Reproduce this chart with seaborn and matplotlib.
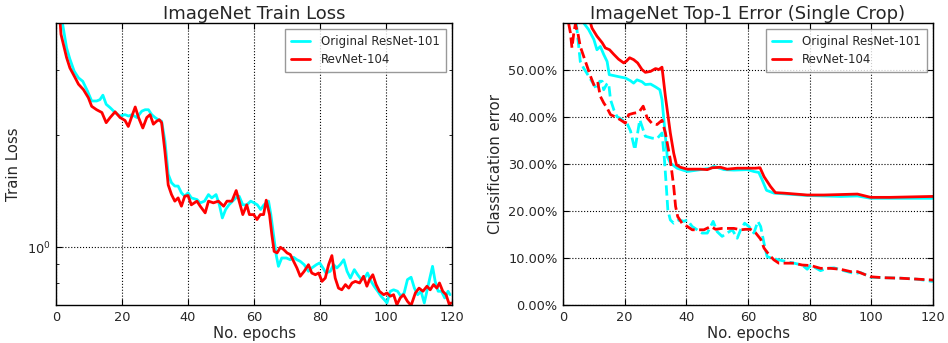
import numpy as np
import pandas as pd
import matplotlib
matplotlib.use("Agg")
import matplotlib.pyplot as plt
import matplotlib.ticker as mticker
import seaborn as sns

# train loss (left)
resnet_loss_ep = [2.0, 3.2, 4.2, 5.5, 6.8, 8.1, 9.5, 10.8, 12.3, 13.3, 14.2, 15.2, 16.4, 17.9, 19.4, 20.9,
                  22.0, 23.0, 24.5, 26.0, 27.0, 28.0, 29.0, 30.0, 31.0, 32.0, 33.0, 34.0, 35.0, 36.0, 37.0,
                  38.0, 39.0, 40.0, 41.0, 42.7, 43.7, 45.0, 46.2, 47.2, 48.5, 49.5, 50.4, 51.4, 52.4, 53.5,
                  54.5, 55.5, 56.6, 57.8, 59.0, 60.0, 61.0, 62.0, 63.0, 64.4, 65.1, 65.9, 66.7, 67.4, 68.4,
                  69.8, 71.0, 72.0, 73.0, 74.0, 75.2, 76.5, 77.5, 78.9, 79.9, 80.9, 81.8, 83.1, 84.1, 85.1,
                  86.1, 87.2, 88.2, 89.2, 90.4, 91.4, 92.5, 93.5, 94.4, 95.5, 96.4, 97.5, 98.5, 99.5, 100.3,
                  101.3, 102.3, 103.5, 104.5, 105.5, 106.5, 107.6, 108.6, 109.6, 110.6, 111.6, 112.6, 113.4,
                  114.1, 114.9, 115.8, 116.8, 117.8, 118.8, 119.4]
resnet_loss = [3.97, 3.43, 3.20, 2.97, 2.85, 2.79, 2.63, 2.47, 2.47, 2.49, 2.56, 2.42, 2.37, 2.30, 2.25, 2.27,
               2.25, 2.27, 2.23, 2.32, 2.34, 2.34, 2.27, 2.23, 2.20, 2.18, 1.93, 1.57, 1.49, 1.46, 1.46,
               1.40, 1.371, 1.40, 1.357, 1.343, 1.316, 1.33, 1.385, 1.357, 1.385, 1.30, 1.199, 1.263, 1.30, 1.33,
               1.357, 1.371, 1.30, 1.30, 1.33, 1.316, 1.30, 1.263, 1.30, 1.33, 1.224, 1.082, 0.956, 0.889, 0.936,
               0.936, 0.926, 0.94, 0.926, 0.917, 0.898, 0.862, 0.88, 0.898, 0.908, 0.88, 0.853, 0.862, 0.898, 0.88,
               0.898, 0.926, 0.862, 0.827, 0.871, 0.844, 0.819, 0.827, 0.853, 0.81, 0.786, 0.762, 0.739, 0.723, 0.709,
               0.762, 0.769, 0.762, 0.739, 0.754, 0.819, 0.831, 0.777, 0.746, 0.762, 0.709, 0.777, 0.836,
               0.889, 0.81, 0.762, 0.762, 0.731, 0.762, 0.746]

revnet_loss_ep = [1.0, 1.5, 3.2, 4.2, 5.8, 6.8, 8.3, 9.8, 10.8, 12.3, 13.9, 15.2, 16.4, 17.9, 19.4, 20.9, 21.9,
                  23.0, 24.0, 25.0, 26.3, 27.5, 28.5, 29.5, 30.5, 31.3, 32.0, 33.0, 34.0, 35.0, 36.0, 37.0,
                  38.0, 39.0, 40.0, 41.0, 42.7, 43.7, 45.2, 46.2, 47.7, 49.2, 50.8, 51.8, 53.3, 54.6, 55.8,
                  56.6, 57.8, 58.6, 59.9, 60.9, 61.9, 62.9, 63.7, 64.7, 65.4, 66.1, 67.0, 68.0, 69.0, 70.0,
                  71.0, 72.0, 73.0, 74.0, 75.2, 76.5, 77.5, 78.6, 79.6, 80.6, 81.6, 82.6, 83.6, 84.6, 85.6,
                  86.6, 87.7, 88.7, 89.7, 90.7, 92.0, 93.2, 94.2, 95.0, 96.0, 97.0, 98.0, 99.3, 100.3, 101.3,
                  102.3, 103.3, 104.3, 105.3, 106.5, 107.6, 108.9, 110.0, 111.2, 112.4, 113.4, 114.4, 115.4,
                  116.2, 117.2, 118.2, 119.2, 119.7]
revnet_loss = [4.3, 3.73, 3.23, 3.03, 2.85, 2.74, 2.65, 2.52, 2.39, 2.34, 2.30, 2.16, 2.23, 2.31, 2.23, 2.19, 2.11,
               2.25, 2.38, 2.23, 2.09, 2.23, 2.27, 2.14, 2.18, 2.20, 2.16, 1.81, 1.47, 1.385, 1.33, 1.357,
               1.289, 1.371, 1.377, 1.30, 1.33, 1.289, 1.237, 1.33, 1.316, 1.33, 1.289, 1.33, 1.33, 1.42, 1.30,
               1.224, 1.30, 1.224, 1.224, 1.187, 1.224, 1.224, 1.338, 1.224, 1.082, 0.975, 0.966, 1.0, 0.986, 0.966,
               0.956, 0.917, 0.88, 0.836, 0.862, 0.898, 0.853, 0.844, 0.853, 0.81, 0.827, 0.898, 0.95, 0.827, 0.777,
               0.769, 0.794, 0.777, 0.802, 0.81, 0.802, 0.836, 0.786, 0.819, 0.844, 0.794, 0.762, 0.746, 0.754, 0.739,
               0.746, 0.701, 0.731, 0.746, 0.716, 0.698, 0.754, 0.777, 0.762, 0.786, 0.769, 0.794, 0.777,
               0.802, 0.762, 0.746, 0.701, 0.709]

# top-1 error in % (right): solid = validation, dashed = training
resnet_val_ep = [6.7, 8.3, 10.0, 11.0, 12.1, 13.2, 14.3, 15.0, 16.5, 18.6, 20.2, 21.9, 22.9, 24.0, 25.6, 26.7,
                 28.4, 30.0, 31.4, 32.1, 32.9, 33.8, 34.8, 37.0, 40.3, 44.6, 47.8, 48.9, 52.2, 55.4, 59.8,
                 61.9, 63.5, 64.6, 66.0, 68.4, 70.6, 79.2, 90.0, 95.5, 99.8, 120.0]
resnet_val = [60.0, 58.6, 56.5, 54.3, 55.0, 53.3, 51.8, 49.0, 48.8, 48.5, 48.3, 47.7, 47.2, 47.9, 47.5, 46.9,
              47.0, 46.4, 45.8, 43.7, 38.0, 31.6, 30.2, 29.1, 28.4, 28.8, 29.1, 29.5, 28.8, 28.7, 28.8,
              28.4, 28.2, 26.6, 24.4, 23.8, 23.7, 23.3, 23.1, 23.2, 22.7, 22.7]

revnet_val_ep = [8.9, 9.4, 11.0, 12.7, 13.7, 15.1, 16.5, 18.0, 19.7, 20.6, 21.6, 22.9, 24.2, 25.6, 26.7, 28.4,
                 30.0, 31.1, 32.1, 33.2, 34.8, 35.9, 36.8, 38.1, 40.3, 44.6, 46.8, 48.4, 51.1, 53.2, 56.5,
                 59.8, 62.4, 63.9, 65.2, 67.3, 68.9, 71.6, 79.2, 84.6, 95.5, 99.8, 106.0, 120.0]
revnet_val = [60.0, 58.9, 57.2, 55.8, 54.7, 54.3, 53.3, 52.3, 51.5, 51.9, 52.6, 52.2, 51.5, 50.1, 49.5, 49.7,
              50.3, 50.1, 50.6, 44.4, 36.6, 32.3, 29.8, 29.3, 28.9, 28.9, 28.8, 29.2, 29.3, 28.9, 29.1,
              29.1, 29.1, 29.2, 27.3, 25.2, 23.9, 23.8, 23.4, 23.4, 23.6, 22.9, 22.9, 23.1]

resnet_train_ep = [4.3, 5.6, 6.7, 8.3, 10.0, 11.0, 11.9, 12.7, 13.2, 14.1, 14.8, 15.4, 16.5, 17.5, 19.2, 20.8,
                   21.9, 23.3, 24.9, 26.7, 28.9, 30.5, 32.1, 32.9, 33.5, 34.0, 34.8, 35.9, 37.6, 39.2, 40.3,
                   41.9, 43.5, 45.1, 46.8, 48.7, 50.0, 51.6, 53.2, 54.9, 56.5, 57.6, 58.9, 60.3, 61.9, 63.2,
                   64.1, 65.2, 66.2, 67.9, 70.0, 72.7, 74.9, 77.6, 79.2, 80.3, 83.5, 85.7, 87.9, 91.1, 94.4,
                   96.5, 99.8, 104.1, 109.5, 114.8, 120.0]
resnet_train = [60.0, 51.8, 50.4, 48.7, 46.9, 45.8, 47.6, 47.6, 45.8, 46.9, 47.2, 43.7, 41.5, 40.1, 39.4, 38.6,
                37.0, 33.0, 39.4, 35.9, 35.5, 35.4, 36.6, 30.9, 25.2, 20.2, 18.1, 17.4, 18.1, 17.8, 18.1,
                16.7, 16.0, 15.3, 15.3, 17.8, 15.6, 14.6, 15.3, 16.0, 14.2, 16.0, 17.4, 16.7, 15.3, 17.8,
                16.7, 13.1, 10.3, 9.9, 9.6, 9.2, 8.9, 8.5, 7.6, 8.5, 7.3, 7.8, 7.9, 7.3, 6.7,
                6.9, 5.9, 5.8, 5.7, 5.5, 5.0]

revnet_train_ep = [1.8, 2.4, 2.9, 3.5, 4.0, 4.8, 5.6, 6.7, 7.8, 8.9, 10.2, 11.3, 12.1, 13.2, 14.3, 15.4, 17.0,
                   18.6, 20.2, 21.3, 22.9, 24.6, 26.0, 27.3, 28.9, 30.5, 32.1, 33.2, 34.8, 35.9, 36.5, 37.2,
                   38.6, 40.3, 41.9, 43.5, 45.7, 47.9, 49.5, 51.6, 53.2, 55.4, 57.6, 59.2, 60.8, 62.4, 64.1,
                   65.2, 66.8, 68.4, 70.0, 72.2, 74.9, 77.6, 80.3, 83.5, 86.8, 90.0, 93.3, 95.5, 98.2, 99.8,
                   104.1, 109.5, 114.8, 120.0]
revnet_train = [60.0, 57.9, 54.7, 57.9, 59.7, 57.9, 55.0, 52.9, 50.8, 48.7, 46.5, 47.2, 44.4, 43.0, 41.9, 40.5, 40.0,
                39.4, 38.7, 40.5, 40.8, 41.0, 42.3, 39.8, 38.6, 38.4, 39.3, 36.6, 30.9, 25.2, 21.0, 18.8,
                17.4, 16.7, 16.0, 16.0, 16.0, 16.7, 16.1, 16.3, 16.3, 16.3, 16.0, 16.1, 16.1, 15.4, 14.0,
                12.1, 10.7, 9.6, 8.9, 8.9, 8.9, 8.5, 8.4, 7.8, 7.8, 7.6, 7.1, 7.1, 6.4, 6.0,
                5.8, 5.7, 5.5, 5.3]

CYAN = "#00ffff"
RED = "#ff0000"

sns.set_style("white")
plt.rcParams["font.family"] = ["DejaVu Sans"]
plt.rcParams["xtick.direction"] = "in"
plt.rcParams["ytick.direction"] = "in"

fig = plt.figure(figsize=(9.48, 3.43), dpi=100)
ax1 = fig.add_axes([0.0591, 0.1108, 0.4177, 0.8222])
ax2 = fig.add_axes([0.5939, 0.1108, 0.3903, 0.8222])


def style_axes(ax):
    for s in ax.spines.values():
        s.set_color("black")
        s.set_linewidth(1.0)
    ax.tick_params(which="both", top=True, right=True, bottom=True, left=True,
                   direction="in", labelsize=9.3, color="black")
    ax.tick_params(which="major", length=4, pad=4)
    ax.tick_params(which="minor", length=2)
    ax.grid(True, which="major", linestyle=":", color="black", linewidth=0.8)
    ax.set_xlim(0, 120)
    ax.set_xticks([0, 20, 40, 60, 80, 100, 120])
    ax.set_xlabel("No. epochs", fontsize=10.7, labelpad=2)


# left: train loss
sns.lineplot(x=resnet_loss_ep, y=resnet_loss, color=CYAN, lw=2, label="Original ResNet-101",
             estimator=None, sort=False, ax=ax1)
sns.lineplot(x=revnet_loss_ep, y=revnet_loss, color=RED, lw=2, label="RevNet-104",
             estimator=None, sort=False, ax=ax1)
ax1.set_yscale("log")
ax1.set_ylim(0.7, 4.0)
ax1.yaxis.set_major_locator(mticker.LogLocator(base=10))
ax1.yaxis.set_minor_locator(mticker.FixedLocator([0.7, 0.8, 0.9, 2, 3, 4]))
ax1.yaxis.set_minor_formatter(mticker.NullFormatter())
style_axes(ax1)
ax1.set_ylabel("Train Loss", fontsize=10.7)
ax1.set_title("ImageNet Train Loss", fontsize=13, pad=3)

# right: top-1 error
sns.lineplot(x=resnet_val_ep, y=resnet_val, color=CYAN, lw=2, label="Original ResNet-101",
             estimator=None, sort=False, ax=ax2)
sns.lineplot(x=revnet_val_ep, y=revnet_val, color=RED, lw=2, label="RevNet-104",
             estimator=None, sort=False, ax=ax2)
sns.lineplot(x=resnet_train_ep, y=resnet_train, color=CYAN, lw=2, linestyle="--",
             estimator=None, sort=False, ax=ax2)
sns.lineplot(x=revnet_train_ep, y=revnet_train, color=RED, lw=2, linestyle="--",
             estimator=None, sort=False, ax=ax2)
ax2.set_ylim(0, 60)
ax2.set_yticks([0, 10, 20, 30, 40, 50])
ax2.yaxis.set_major_formatter(mticker.FuncFormatter(lambda v, p: f"{v:.2f}%"))
style_axes(ax2)
ax2.set_ylabel("Classification error", fontsize=10.7)
ax2.set_title("ImageNet Top-1 Error (Single Crop)", fontsize=13, pad=3)

for ax in (ax1, ax2):
    leg = ax.legend(loc="upper right", fontsize=8.5, frameon=True, fancybox=False,
                    handlelength=1.6, handletextpad=1.0, borderpad=0.5, labelspacing=0.45,
                    borderaxespad=0.5)
    leg.get_frame().set_edgecolor("gray")
    leg.get_frame().set_linewidth(1.0)

fig.savefig("out.png", dpi=100, facecolor="white")
